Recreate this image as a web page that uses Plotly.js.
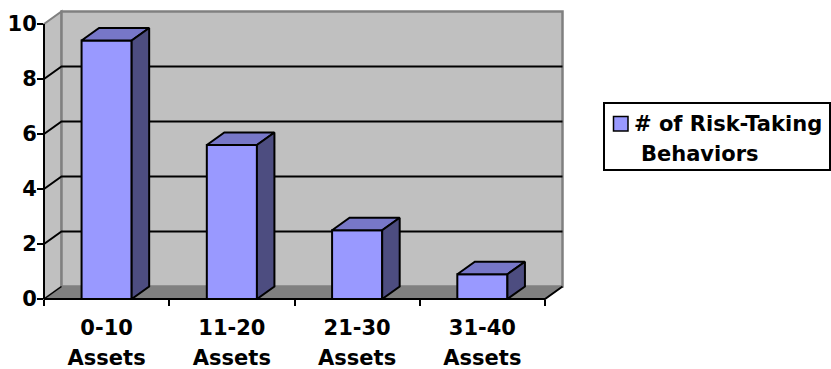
<!DOCTYPE html>
<html>
<head>
<meta charset="utf-8">
<script src="https://cdn.plot.ly/plotly-3.0.1.min.js"></script>
<style>
  html, body { margin: 0; padding: 0; background: #ffffff; }
  #chart { width: 831px; height: 369px; }
</style>
</head>
<body>
<div id="chart"></div>
<script>
// ---- data ----
const categories = ['0-10', '11-20', '21-30', '31-40'];
const categoryUnit = ['Assets', 'Assets', 'Assets', 'Assets'];
const behaviors = [9.4, 5.6, 2.5, 0.9];
const yTickValues = [0, 2, 4, 6, 8, 10];
const seriesName = '# of Risk-Taking Behaviors';
const legendLines = ['# of Risk-Taking', 'Behaviors'];

// ---- geometry of the pseudo-3D frame ----
const W = 831, H = 369;
const M = { l: 44, r: 268, t: 10, b: 70 };
const plotW = W - M.l - M.r;
const plotH = H - M.t - M.b;
const yMaxTick = yTickValues[yTickValues.length - 1];
const pxPerY = 27.5;                       // vertical scale of the value axis
const pxPerX = 125.25;                     // width of one category slot
const depthPx = { x: 17.5, y: 12.5 };      // receding offset of floor / walls / bar depth
const dx = depthPx.x / pxPerX;
const dy = depthPx.y / pxPerY;
const nCat = categories.length;
const xLo = -0.5, xHi = nCat - 0.5;
const xRange = [xLo, xLo + plotW / pxPerX];
const yRange = [0, plotH / pxPerY];
const barW = 0.4;

const FONT = { family: 'DejaVu Sans, Arial, sans-serif', size: 21, color: '#000000', weight: 'bold' };

const xs = categories.map((_, i) => i);

// converters from axis values / pixels to paper fractions
const xp = v => (v - xRange[0]) / (xRange[1] - xRange[0]);
const yp = v => (v - yRange[0]) / (yRange[1] - yRange[0]);
const pxX = px => (px - M.l) / plotW;
const pxY = py => (H - M.b - py) / plotH;

function pathFrom(points) {
  return points.map((p, k) => (k ? 'L' : 'M') + xp(p[0]).toFixed(5) + ',' + yp(p[1]).toFixed(5)).join(' ') + ' Z';
}

// ---- bar faces ----
const topX = [], topY = [], sideX = [], sideY = [];
behaviors.forEach((v, i) => {
  const a = xs[i] - barW / 2, b = xs[i] + barW / 2;
  [[a, v], [a + dx, v + dy], [b + dx, v + dy], [b, v], [a, v]].forEach(p => { topX.push(p[0]); topY.push(p[1]); });
  topX.push(null); topY.push(null);
  [[b, 0], [b, v], [b + dx, v + dy], [b + dx, dy], [b, 0]].forEach(p => { sideX.push(p[0]); sideY.push(p[1]); });
  sideX.push(null); sideY.push(null);
});

const traces = [
  {
    type: 'bar', name: seriesName, x: xs, y: behaviors, width: barW,
    marker: { color: '#9999FF', line: { color: '#000000', width: 2 } },
    hoverinfo: 'skip', showlegend: false
  },
  {
    // top faces, drawn on the axis that carries the range labels
    type: 'scatter', mode: 'lines', x: topX, y: topY, xaxis: 'x2', fill: 'toself',
    fillcolor: '#7777C8', line: { color: '#000000', width: 2 },
    hoverinfo: 'skip', showlegend: false, cliponaxis: false
  },
  {
    // side faces, drawn on the axis that carries the unit labels
    type: 'scatter', mode: 'lines', x: sideX, y: sideY, xaxis: 'x3', fill: 'toself',
    fillcolor: '#4D4D80', line: { color: '#000000', width: 2 },
    hoverinfo: 'skip', showlegend: false, cliponaxis: false
  }
];

// ---- walls, floor, gridlines, axis lines ----
const shapes = [];
const paperShape = (path, fill, lineColor, lineW, layer) => ({
  type: 'path', xref: 'paper', yref: 'paper', path: path,
  fillcolor: fill, line: { color: lineColor, width: lineW }, layer: layer
});

// side wall
shapes.push(paperShape(pathFrom([[xLo, 0], [xLo, yMaxTick], [xLo + dx, yMaxTick + dy], [xLo + dx, dy]]),
  '#C0C0C0', '#808080', 2, 'below'));
// back wall
shapes.push(paperShape(pathFrom([[xLo + dx, dy], [xLo + dx, yMaxTick + dy], [xHi + dx, yMaxTick + dy], [xHi + dx, dy]]),
  '#C0C0C0', '#808080', 2.5, 'below'));
// floor
shapes.push(paperShape(pathFrom([[xLo, 0], [xHi, 0], [xHi + dx, dy], [xLo + dx, dy]]),
  '#808080', '#808080', 1, 'below'));
// gridlines across side wall and back wall
yTickValues.filter(v => v > 0 && v < yMaxTick).forEach(v => {
  shapes.push({
    type: 'path', xref: 'paper', yref: 'paper', layer: 'below',
    path: 'M' + xp(xLo) + ',' + yp(v) + ' L' + xp(xLo + dx) + ',' + yp(v + dy) + ' L' + xp(xHi + dx) + ',' + yp(v + dy),
    line: { color: '#000000', width: 2 }
  });
});
// floor left edge
shapes.push({
  type: 'line', xref: 'paper', yref: 'paper', layer: 'below',
  x0: xp(xLo), y0: yp(0), x1: xp(xLo + dx), y1: yp(dy),
  line: { color: '#000000', width: 1.5 }
});
// value axis line
shapes.push({
  type: 'line', xref: 'paper', yref: 'paper', layer: 'above',
  x0: xp(xLo), y0: yp(0), x1: xp(xLo), y1: yp(yMaxTick),
  line: { color: '#000000', width: 2 }
});
// category axis line with its receding right edge
shapes.push({
  type: 'path', xref: 'paper', yref: 'paper', layer: 'above',
  path: 'M' + xp(xLo) + ',' + yp(0) + ' L' + xp(xHi) + ',' + yp(0) + ' L' + xp(xHi + dx) + ',' + yp(dy),
  line: { color: '#000000', width: 2 }
});

// ---- legend box ----
shapes.push({
  type: 'rect', xref: 'paper', yref: 'paper', layer: 'above',
  x0: pxX(604), x1: pxX(830), y0: pxY(170), y1: pxY(103),
  fillcolor: '#FFFFFF', line: { color: '#000000', width: 2 }
});
shapes.push({
  type: 'rect', xref: 'paper', yref: 'paper', layer: 'above',
  x0: pxX(613.5), x1: pxX(628), y0: pxY(131), y1: pxY(116.5),
  fillcolor: '#9999FF', line: { color: '#000000', width: 1.5 }
});

const annotations = [
  { xref: 'paper', yref: 'paper', x: pxX(632), y: pxY(124), xanchor: 'left', yanchor: 'middle',
    text: legendLines[0], showarrow: false, font: FONT, align: 'left' },
  { xref: 'paper', yref: 'paper', x: pxX(639), y: pxY(154), xanchor: 'left', yanchor: 'middle',
    text: legendLines[1], showarrow: false, font: FONT, align: 'left' }
];

const layout = {
  width: W, height: H,
  margin: M,
  paper_bgcolor: '#FFFFFF',
  plot_bgcolor: 'rgba(0,0,0,0)',
  showlegend: false,
  xaxis: {
    range: xRange, fixedrange: true, showgrid: false, zeroline: false, showline: false,
    tickmode: 'array', tickvals: Array.from({ length: nCat + 1 }, (_, k) => xLo + k),
    showticklabels: false, ticks: 'outside', ticklen: 6, tickwidth: 2, tickcolor: '#000000'
  },
  xaxis2: {
    overlaying: 'x', anchor: 'y', side: 'bottom',
    range: xRange, fixedrange: true, showgrid: false, zeroline: false, showline: false,
    tickmode: 'array', tickvals: xs, ticktext: categories, ticks: '',
    tickfont: FONT, ticklabelstandoff: 14
  },
  xaxis3: {
    overlaying: 'x', anchor: 'y', side: 'bottom',
    range: xRange, fixedrange: true, showgrid: false, zeroline: false, showline: false,
    tickmode: 'array', tickvals: xs, ticktext: categoryUnit, ticks: '',
    tickfont: FONT, ticklabelstandoff: 44
  },
  yaxis: {
    range: yRange, fixedrange: true, showgrid: false, zeroline: false, showline: false,
    tickmode: 'array', tickvals: yTickValues, ticktext: yTickValues.map(String),
    ticks: 'outside', ticklen: 6, tickwidth: 2, tickcolor: '#000000',
    tickfont: FONT, ticklabelstandoff: -4
  },
  shapes: shapes,
  annotations: annotations
};

Plotly.newPlot('chart', traces, layout, { staticPlot: true, displayModeBar: false });
</script>
</body>
</html>
